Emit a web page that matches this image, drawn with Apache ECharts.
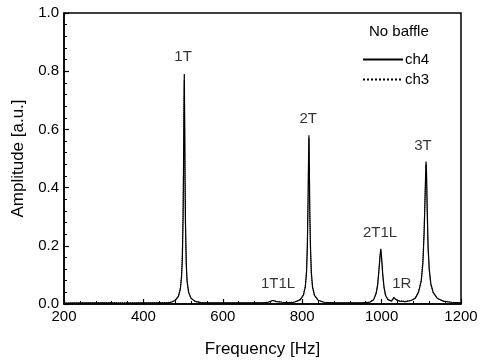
<!DOCTYPE html>
<html><head><meta charset="utf-8">
<script src="https://cdn.jsdelivr.net/npm/echarts@6/dist/echarts.min.js"></script>
<style>html,body{margin:0;padding:0;background:#fff}#c{width:481px;height:363px}</style>
</head><body><div id="c"></div>
<script>
// Frequency samples [Hz]
var freqs = [200,250,300,350,400,440,460,470,480,488,493,496,498,500,501,502,503,504,505,506,508,510,514,520,530,545,580,620,660,700,715,726,735,750,765,780,795,803,808,811,813,815,816,817,818,819,821,823,826,831,840,855,880,920,950,970,980,986,990,993,996,998,1000,1003,1006,1010,1016,1025,1031,1036,1045,1060,1075,1085,1093,1100,1104,1107,1109,1111,1112,1113,1115,1117,1120,1124,1130,1140,1155,1175,1200];
// ch4 amplitudes [a.u.]
var ch4 = [0.003,0.004,0.004,0.003,0.004,0.004,0.004,0.006,0.012,0.025,0.05,0.09,0.15,0.30,0.45,0.65,0.79,0.62,0.42,0.28,0.14,0.08,0.04,0.02,0.009,0.005,0.004,0.004,0.004,0.004,0.006,0.012,0.008,0.006,0.005,0.006,0.014,0.03,0.06,0.11,0.20,0.38,0.50,0.58,0.47,0.33,0.19,0.11,0.06,0.03,0.013,0.006,0.004,0.004,0.004,0.006,0.015,0.035,0.065,0.11,0.165,0.19,0.16,0.10,0.06,0.03,0.015,0.010,0.022,0.015,0.010,0.008,0.012,0.02,0.04,0.08,0.14,0.24,0.34,0.45,0.49,0.46,0.32,0.20,0.12,0.07,0.04,0.02,0.010,0.006,0.004];
// ch3 amplitudes [a.u.]
var ch3 = [0.003,0.003,0.004,0.004,0.003,0.004,0.005,0.007,0.014,0.028,0.055,0.10,0.17,0.32,0.46,0.64,0.77,0.60,0.40,0.26,0.13,0.075,0.038,0.019,0.009,0.005,0.004,0.004,0.004,0.005,0.007,0.013,0.009,0.006,0.005,0.007,0.016,0.033,0.065,0.12,0.21,0.37,0.49,0.57,0.46,0.32,0.18,0.10,0.055,0.028,0.012,0.006,0.004,0.004,0.004,0.007,0.016,0.037,0.068,0.115,0.16,0.185,0.155,0.095,0.055,0.028,0.014,0.011,0.024,0.016,0.011,0.009,0.013,0.022,0.043,0.085,0.15,0.25,0.35,0.44,0.48,0.45,0.31,0.19,0.115,0.065,0.038,0.019,0.010,0.006,0.004];
// Peak annotations
var peakNames = ['1T','1T1L','2T','2T1L','1R','3T'];
var peakX = [500,739,815,996,1051,1104];
var peakY = [0.849,0.069,0.636,0.244,0.069,0.543];
// Axis ticks
var xTicks = [200,400,600,800,1000,1200];
var yTicks = [0.0,0.2,0.4,0.6,0.8,1.0];

var font = '"Liberation Sans", Arial, sans-serif';
function pairs(ys){return freqs.map(function(f,i){return [f,ys[i]];});}
var chart = echarts.init(document.getElementById('c'), null, {renderer:'canvas'});
chart.setOption({
  animation:false,
  backgroundColor:'#fff',
  grid:{left:64,right:20,top:13,bottom:59,show:true,borderColor:'#000',borderWidth:1.5},
  title:{text:'No baffle',left:364,top:19,textStyle:{fontFamily:font,fontSize:15,fontWeight:'normal',color:'#000'}},
  legend:{orient:'vertical',left:357,top:47,itemWidth:40,itemHeight:10,itemGap:5,
    itemStyle:{opacity:0},
    textStyle:{fontFamily:font,fontSize:15,color:'#000',padding:[0,0,0,-3]},data:['ch4','ch3']},
  xAxis:{type:'value',min:xTicks[0],max:xTicks[xTicks.length-1],interval:200,
    name:'Frequency [Hz]',nameLocation:'middle',nameGap:37,
    nameTextStyle:{fontFamily:font,fontSize:17,color:'#000'},
    axisLine:{lineStyle:{color:'#000',width:1.5}},
    axisTick:{inside:true,length:5,lineStyle:{color:'#000',width:1.2}},
    minorTick:{show:true,splitNumber:5,length:3,lineStyle:{color:'#000',width:1}},
    axisLabel:{fontFamily:font,fontSize:15,color:'#000',margin:5,formatter:function(v){return String(v);}},
    splitLine:{show:false}},
  yAxis:{type:'value',min:yTicks[0],max:yTicks[yTicks.length-1],interval:0.2,
    name:'Amplitude [a.u.]',nameLocation:'middle',nameGap:36,
    nameTextStyle:{fontFamily:font,fontSize:17,color:'#000'},
    axisLine:{lineStyle:{color:'#000',width:1.5}},
    axisTick:{inside:true,length:5,lineStyle:{color:'#000',width:1.2}},
    minorTick:{show:true,splitNumber:5,length:3,lineStyle:{color:'#000',width:1}},
    axisLabel:{fontFamily:font,fontSize:15,color:'#000',margin:5,formatter:function(v){return v.toFixed(1);}},
    splitLine:{show:false}},
  series:[
    {name:'ch4',type:'line',data:pairs(ch4),symbol:'none',lineStyle:{color:'#000',width:1.2,type:'solid'},itemStyle:{color:'#000'},z:3},
    {name:'ch3',type:'line',data:pairs(ch3),symbol:'none',lineStyle:{color:'#000',width:1,type:'dotted'},itemStyle:{color:'#000'},z:2},
    {name:'labels',type:'scatter',symbolSize:0,silent:true,
      data:peakNames.map(function(n,i){return {name:n,value:[peakX[i],peakY[i]]};}),
      label:{show:true,position:'inside',formatter:'{b}',fontFamily:font,fontSize:15,color:'#000'}}
  ]
});
</script></body></html>
